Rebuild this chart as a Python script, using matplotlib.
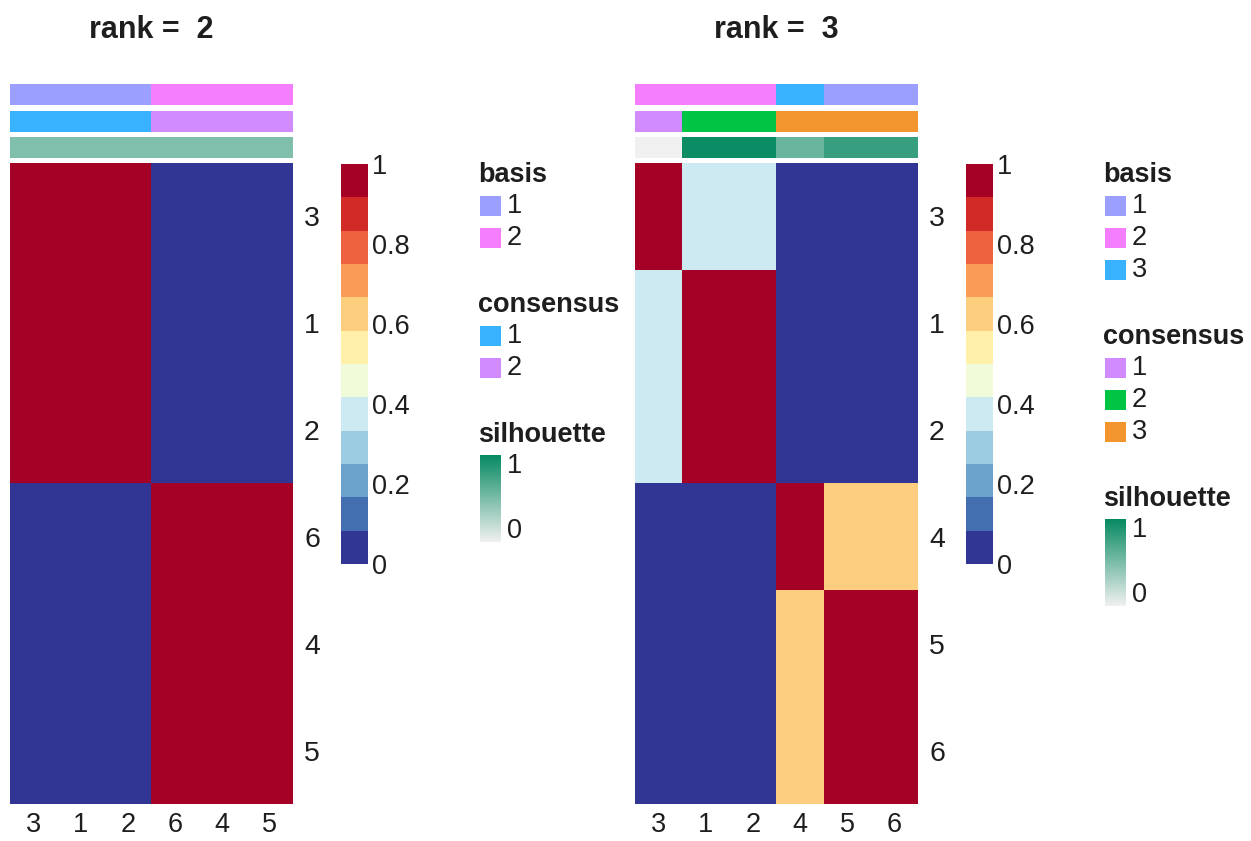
import numpy as np
import matplotlib
import matplotlib.pyplot as plt
from matplotlib.colors import ListedColormap, BoundaryNorm, LinearSegmentedColormap, Normalize
from matplotlib.cm import ScalarMappable
from matplotlib.patches import Rectangle

plt.rcParams["font.family"] = ["Liberation Sans", "DejaVu Sans"]

# ---- data ----
rank2_order = ["3", "1", "2", "6", "4", "5"]
rank2_consensus = [
    [1, 1, 1, 0, 0, 0],
    [1, 1, 1, 0, 0, 0],
    [1, 1, 1, 0, 0, 0],
    [0, 0, 0, 1, 1, 1],
    [0, 0, 0, 1, 1, 1],
    [0, 0, 0, 1, 1, 1],
]
rank2_basis = [1, 1, 1, 2, 2, 2]
rank2_cluster = [1, 1, 1, 2, 2, 2]
rank2_silhouette = [0.48, 0.48, 0.48, 0.48, 0.48, 0.48]
rank2_basis_colors = ["#9B9FFF", "#F57EFF"]
rank2_cluster_colors = ["#38B2FF", "#D28AFF"]

rank3_order = ["3", "1", "2", "4", "5", "6"]
rank3_consensus = [
    [1.0, 0.4, 0.4, 0.0, 0.0, 0.0],
    [0.4, 1.0, 1.0, 0.0, 0.0, 0.0],
    [0.4, 1.0, 1.0, 0.0, 0.0, 0.0],
    [0.0, 0.0, 0.0, 1.0, 0.6, 0.6],
    [0.0, 0.0, 0.0, 0.6, 1.0, 1.0],
    [0.0, 0.0, 0.0, 0.6, 1.0, 1.0],
]
rank3_basis = [2, 2, 2, 3, 1, 1]
rank3_cluster = [1, 2, 2, 3, 3, 3]
rank3_silhouette = [0.0, 0.98, 0.98, 0.58, 0.79, 0.79]
rank3_basis_colors = ["#9B9FFF", "#F57EFF", "#38B2FF"]
rank3_cluster_colors = ["#D28AFF", "#00C443", "#F2952E"]

cbar_ticks = [0, 0.2, 0.4, 0.6, 0.8, 1]
cbar_labels = ["0", "0.2", "0.4", "0.6", "0.8", "1"]

W, H = 1251, 841
FS = 19.5
TXT = "#1e1e1e"

heat_cmap = ListedColormap(plt.get_cmap("RdYlBu_r")(np.linspace(0, 1, 12)))
heat_norm = BoundaryNorm(np.linspace(0, 1, 13), 12)
sil_cmap = LinearSegmentedColormap.from_list("sil", ["#F0F0F0", "#078A62"])

fig = plt.figure(figsize=(W / 100, H / 100), dpi=100)


def px_axes(x, y, w, h, **kw):
    return fig.add_axes([x / W, 1 - (y + h) / H, w / W, h / H], **kw)


# overlay axes in pixel units for titles and legends
over = fig.add_axes([0, 0, 1, 1], zorder=-1)
over.axis("off")


def draw_panel(dx, title, order, consensus, basis, cluster, sil, basis_cols, clus_cols):
    hx, hw = 10 + dx, 283
    fig.text((hx + hw / 2) / W, 1 - 38 / H, title, ha="center", va="baseline",
             fontsize=22, fontweight="bold", color=TXT)

    bars = [
        (84, np.array(basis) - 1, ListedColormap(basis_cols), Normalize(-0.5, len(basis_cols) - 0.5)),
        (111, np.array(cluster) - 1, ListedColormap(clus_cols), Normalize(-0.5, len(clus_cols) - 0.5)),
        (137, np.array(sil), sil_cmap, Normalize(0, 1)),
    ]
    for y, vals, cmap, norm in bars:
        ax = px_axes(hx, y, hw, 21.5)
        ax.imshow(vals[None, :], cmap=cmap, norm=norm, aspect="auto", interpolation="nearest")
        ax.axis("off")

    ax = px_axes(hx, 163, hw, 641)
    ax.imshow(np.array(consensus), cmap=heat_cmap, norm=heat_norm, aspect="auto",
              interpolation="nearest")
    ax.set_xticks(range(len(order)))
    ax.set_xticklabels(order)
    ax.set_yticks(range(len(order)))
    ax.set_yticklabels(order)
    ax.yaxis.tick_right()
    ax.tick_params(axis="x", length=0, pad=5.5, labelsize=FS, colors=TXT)
    ax.tick_params(axis="y", length=0, pad=8, labelsize=20.5, colors=TXT)
    for s in ax.spines.values():
        s.set_visible(False)

    cax = px_axes(341 + dx, 164, 27, 400)
    sm = ScalarMappable(norm=heat_norm, cmap=heat_cmap)
    cb = fig.colorbar(sm, cax=cax, ticks=cbar_ticks)
    cb.set_ticklabels(cbar_labels)
    cb.minorticks_off()
    cb.outline.set_visible(False)
    cax.tick_params(which="both", length=0, pad=3, labelsize=FS, colors=TXT)

    # legends
    lx = 480 + dx
    y = 175
    for name, cols in [("basis", basis_cols), ("consensus", clus_cols)]:
        over.text(lx - 2, y, name, ha="left", va="center", fontsize=FS, fontweight="bold",
                  color=TXT)
        sy = y + 21
        for i, c in enumerate(cols):
            over.add_patch(Rectangle((lx, sy + 32 * i), 21, 20, facecolor=c, edgecolor="none"))
            over.text(lx + 27, sy + 32 * i + 10, str(i + 1), ha="left", va="center",
                      fontsize=FS, color=TXT)
        y = sy + 32 * (len(cols) - 1) + 77
    over.text(lx - 2, y, "silhouette", ha="left", va="center", fontsize=FS,
              fontweight="bold", color=TXT)
    gy = y + 20
    over.imshow(np.linspace(1, 0, 100)[:, None], extent=[lx, lx + 21, gy + 87, gy],
                cmap=sil_cmap, aspect="auto")
    over.text(lx + 27, gy + 11, "1", ha="left", va="center", fontsize=FS, color=TXT)
    over.text(lx + 27, gy + 76, "0", ha="left", va="center", fontsize=FS, color=TXT)


draw_panel(0, "rank =  2", rank2_order, rank2_consensus, rank2_basis, rank2_cluster,
           rank2_silhouette, rank2_basis_colors, rank2_cluster_colors)
draw_panel(625, "rank =  3", rank3_order, rank3_consensus, rank3_basis, rank3_cluster,
           rank3_silhouette, rank3_basis_colors, rank3_cluster_colors)

over.set_xlim(0, W)
over.set_ylim(H, 0)

fig.savefig("out.png", dpi=100)
